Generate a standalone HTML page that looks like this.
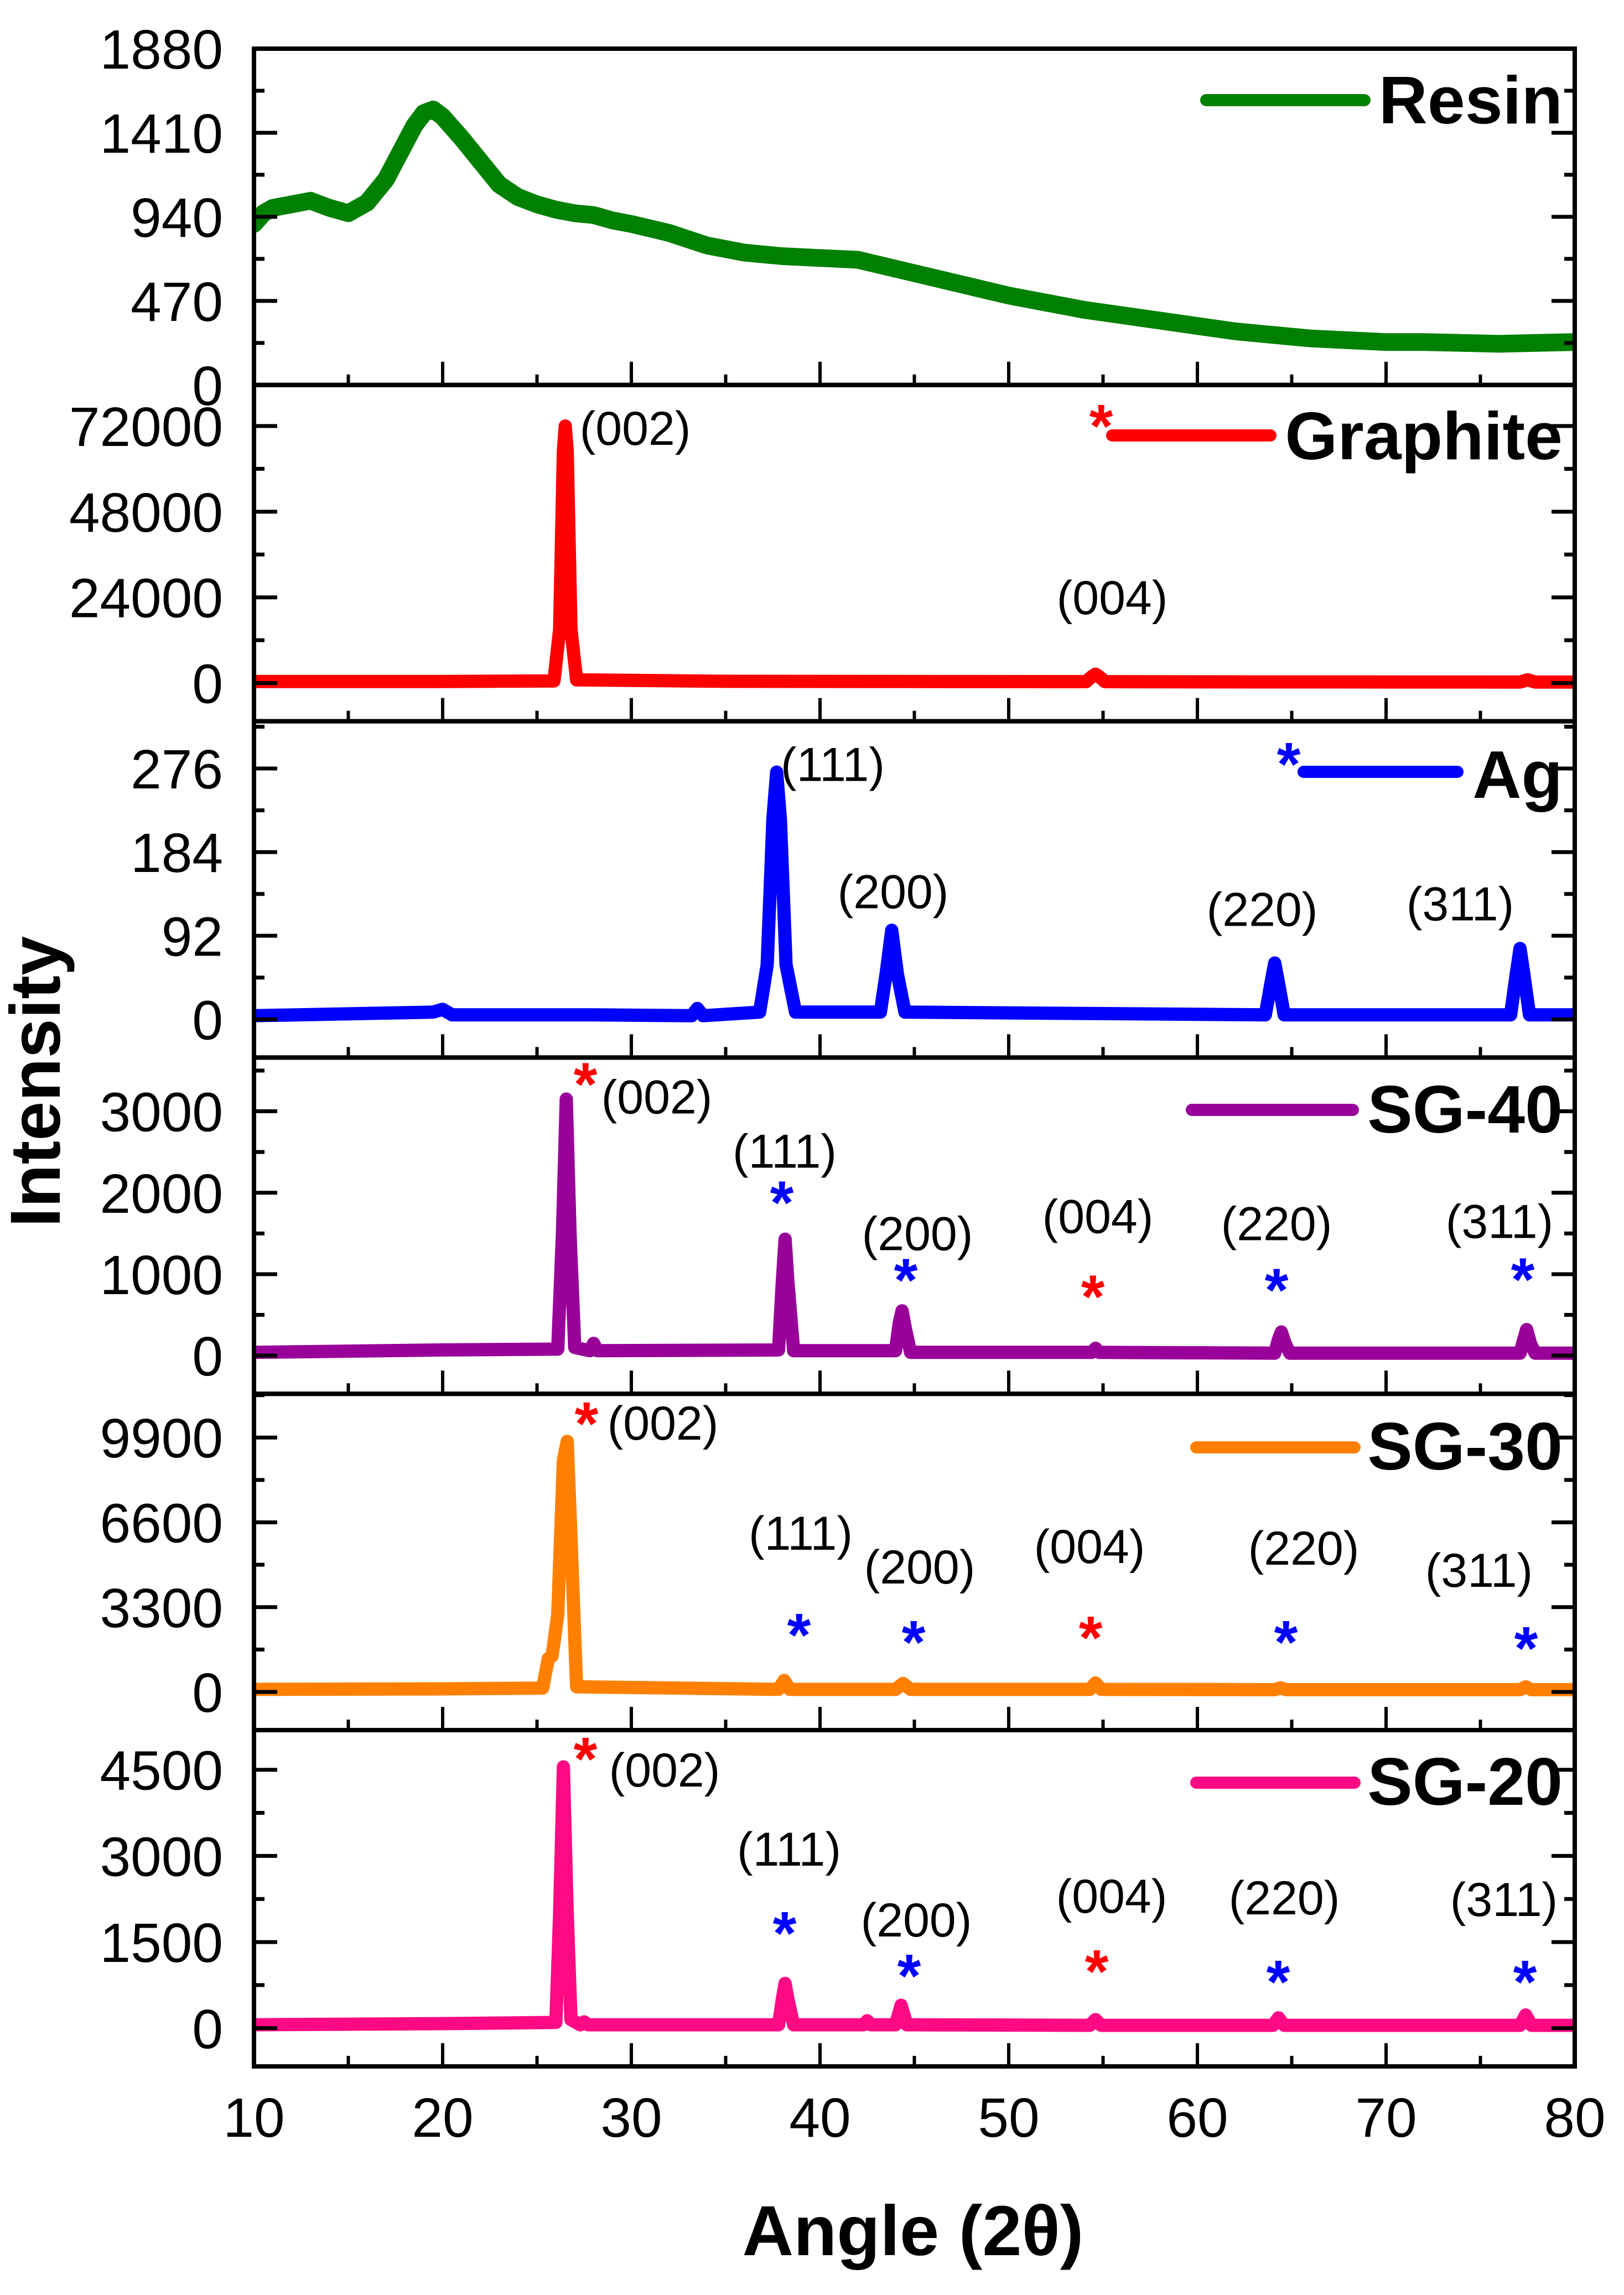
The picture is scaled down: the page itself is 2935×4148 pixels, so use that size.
<!DOCTYPE html>
<html><head><meta charset="utf-8"><title>XRD patterns</title>
<style>
html,body{margin:0;padding:0;background:#fff;}
svg{display:block;font-family:"Liberation Sans",Arial,sans-serif;}
</style></head>
<body>
<svg id="chart" width="2935" height="4148" viewBox="0 0 2935 4148" xmlns="http://www.w3.org/2000/svg">
<rect width="2935" height="4148" fill="#fff"/>
<g id="series"></g>
<g id="axes"></g>
<g id="annot"></g>
<text x="0" y="0" transform="translate(108,1955) rotate(-90)" text-anchor="middle" font-weight="bold" font-size="128">Intensity</text>
<text x="1650" y="4076" text-anchor="middle" font-weight="bold" font-size="128">Angle (2θ)</text>
</svg>
<script>
// ---- data ----
const xTicks = [10,20,30,40,50,60,70,80];
const panelNames = ["Resin","Graphite","Ag","SG-40","SG-30","SG-20"];
const panelColors = ["#008000","#ff0000","#0000ff","#990099","#ff8000","#ff0a84"];
const yRanges = [[0,1880],[-10690,83490],[-42,328],[-469,3660],[-1485,11602],[-665,5191]];
const yTickLabels = [[0,470,940,1410,1880],[0,24000,48000,72000],[0,92,184,276],[0,1000,2000,3000],[0,3300,6600,9900],[0,1500,3000,4500]];

const resinAngles = [10,10.5,11,12,13,14,15,16,17,18,18.5,19,19.5,20,21,22,23,24,25,26,27,28,29,30,32,34,36,38,40,42,44,46,48,50,52,54,56,58,60,62,64,66,68,70,72,74,76,78,80];
const resinValues = [900,960,990,1010,1030,990,960,1020,1150,1350,1450,1520,1540,1500,1380,1250,1120,1050,1010,980,960,950,920,900,850,780,740,720,710,700,650,600,550,500,460,420,390,360,330,300,280,260,250,240,240,235,230,235,240];

const graphiteAngles = [10,20,25.9,26.2,26.4,26.5,26.6,26.8,27.1,35,54.1,54.4,54.6,54.8,55.1,60,77.1,77.5,77.9,80];
const graphiteValues = [450,450,600,15000,65000,72000,65000,15000,900,500,400,1800,2500,1800,400,350,300,900,300,300];

const agAngles = [10,19.5,20,20.5,28,33.2,33.5,33.8,36.8,37.2,37.5,37.7,37.9,38.2,38.7,43.2,43.5,43.8,44.1,44.5,63.6,63.9,64.1,64.3,64.6,76.6,76.9,77.1,77.3,77.6,80];
const agValues = [4,8,11,5,5,4,12,4,8,60,220,272,220,60,8,8,50,98,50,8,5,40,62,40,5,5,50,78,50,5,5];

const sg40Angles = [10,20,26.1,26.35,26.55,26.75,27.0,27.8,28.0,28.2,37.8,38.0,38.15,38.3,38.6,44.0,44.2,44.35,44.55,44.8,54.4,54.6,54.8,64.1,64.3,64.45,64.65,64.9,77.1,77.3,77.45,77.65,77.9,80];
const sg40Values = [40,70,80,1500,3150,1500,100,60,150,60,70,900,1430,900,60,60,400,550,300,40,40,90,40,30,200,290,150,30,30,200,320,150,30,30];

const sg30Angles = [10,20,25.3,25.6,25.8,26.1,26.4,26.6,26.8,27.1,37.8,38.1,38.4,44.0,44.4,44.8,54.3,54.6,54.9,64.1,64.4,64.7,77.1,77.4,77.7,80];
const sg30Values = [100,120,150,1300,1400,3000,9000,9750,6000,200,100,450,100,100,330,100,100,350,100,90,160,90,90,200,90,90];

const sg20Angles = [10,20,26.0,26.2,26.4,26.6,26.8,27.3,27.5,27.7,37.8,38.0,38.15,38.3,38.6,42.3,42.5,42.7,44.0,44.3,44.6,54.3,54.6,54.9,64.0,64.3,64.6,77.1,77.4,77.7,80];
const sg20Values = [60,80,100,2000,4550,2000,150,60,110,60,60,500,780,500,60,60,130,60,60,400,60,50,150,50,50,180,50,50,230,50,50];

const seriesAngles = [resinAngles,graphiteAngles,agAngles,sg40Angles,sg30Angles,sg20Angles];
const seriesValues = [resinValues,graphiteValues,agValues,sg40Values,sg30Values,sg20Values];

const hklLabels = [
 [1,"(002)",1148,108],[1,"(004)",2010,414],
 [2,"(111)",1505,108],[2,"(200)",1614,338],[2,"(220)",2281,370],[2,"(311)",2639,360],
 [3,"(002)",1187,101],[3,"(111)",1418,199],[3,"(200)",1658,348],[3,"(004)",1984,317],[3,"(220)",2307,330],[3,"(311)",2710,326],
 [4,"(002)",1198,83],[4,"(111)",1447,282],[4,"(200)",1662,343],[4,"(004)",1969,306],[4,"(220)",2356,309],[4,"(311)",2673,349],
 [5,"(002)",1201,102],[5,"(111)",1426,245],[5,"(200)",1656,373],[5,"(004)",2009,330],[5,"(220)",2321,333],[5,"(311)",2718,336]
];
const starMarks = [
 [3,"r",1058,38],[3,"b",1413,252],[3,"b",1637,392],[3,"r",1975,422],[3,"b",2307,410],[3,"b",2752,391],
 [4,"r",1060,44],[4,"b",1444,426],[4,"b",1651,439],[4,"r",1971,431],[4,"b",2324,439],[4,"b",2758,450],
 [5,"r",1058,42],[5,"b",1418,357],[5,"b",1643,434],[5,"r",1982,426],[5,"b",2310,445],[5,"b",2756,445]
];

// ---- layout ----
const L=459, R=2846, T0=88, PH=607.8;
const NS="http://www.w3.org/2000/svg";
function mk(tag,attrs,parent){const e=document.createElementNS(NS,tag);for(const k in attrs)e.setAttribute(k,attrs[k]);parent.appendChild(e);return e;}
function xs(a){return L+(a-10)/(80-10)*(R-L);}
function ys(p,v){const top=T0+p*PH,bot=top+PH;const [a,b]=yRanges[p];return bot-(v-a)/(b-a)*PH;}

const gS=document.getElementById('series'), gA=document.getElementById('axes'), gN=document.getElementById('annot');

for(let p=0;p<6;p++){
  const top=T0+p*PH, bot=top+PH;
  const A=seriesAngles[p], V=seriesValues[p];
  let d="";
  for(let i=0;i<A.length;i++){d+=(i?"L":"M")+xs(A[i]).toFixed(1)+" "+ys(p,V[i]).toFixed(1);}
  const clip=mk('clipPath',{id:'clip'+p},gS);
  mk('rect',{x:L,y:top,width:R-L,height:PH},clip);
  const path=mk('path',{d:d,fill:'none',stroke:panelColors[p],'stroke-width':(p===0?32:24),'stroke-linejoin':'round','stroke-linecap':'round','clip-path':'url(#clip'+p+')'},gS);
  
  

  for(let a=10;a<=80;a+=5){
    const major=(a%10===0);
    const t=mk('line',{x1:xs(a),x2:xs(a),y1:bot,y2:bot-(major?42:19),stroke:'#000','stroke-width':6},gA);
    
    
  }
  const labs=yTickLabels[p];
  const step=labs[1]-labs[0];
  const [ya,yb]=yRanges[p];
  for(let v=Math.ceil(ya/(step/2))*(step/2); v<=yb+1e-9; v+=step/2){
    const y=ys(p,v);
    if(y<top-1||y>bot+1) continue;
    const major=Math.abs(Math.round(v/step)*step-v)<1e-6;
    const len=major?42:19;
    const t1=mk('line',{x1:L,x2:L+len,y1:y,y2:y,stroke:'#000','stroke-width':7},gA);
    
    
    const t2=mk('line',{x1:R,x2:R-len,y1:y,y2:y,stroke:'#000','stroke-width':7},gA);
    
    
  }
  for(const v of labs){
    const tx=mk('text',{x:403,y:ys(p,v)+36,'text-anchor':'end','font-size':100},gA);
    tx.textContent=String(v);
    
    
  }
  const fr=mk('rect',{x:L,y:top,width:R-L,height:PH,fill:'none',stroke:'#000','stroke-width':8},gA);
  
  
}
for(const a of xTicks){
  const t=mk('text',{x:xs(a),y:3862,'text-anchor':'middle','font-size':100},gA);
  t.textContent=String(a);
  
  
}
const legLine=[[2180,2466,181],[2010,2296,787],[2356,2634,1395],[2154,2445,2006],[2162,2448,2616],[2162,2448,3222]];
const legBase=[223,830,1442,2047,2656,3262];
for(let p=0;p<6;p++){
  const g=mk('g',{},gN);
  
  
  mk('line',{x1:legLine[p][0],x2:legLine[p][1],y1:legLine[p][2],y2:legLine[p][2],stroke:panelColors[p],'stroke-width':22,'stroke-linecap':'round'},g);
  const t=mk('text',{x:2824,y:legBase[p],'text-anchor':'end','font-size':122,'font-weight':'bold'},g);
  t.textContent=panelNames[p];
}
const s1=mk('text',{x:1990,y:808,'text-anchor':'middle','font-size':110,'font-weight':'bold',fill:'#ff0000'},gN);
s1.textContent='*';


const s2=mk('text',{x:2329,y:1419,'text-anchor':'middle','font-size':110,'font-weight':'bold',fill:'#0000ff'},gN);
s2.textContent='*';


for(const h of hklLabels){
  const t=mk('text',{x:h[2],y:T0+h[0]*PH+h[3],'text-anchor':'middle','font-size':86},gN);
  t.textContent=h[1];
  
  
}
for(const s of starMarks){
  const t=mk('text',{x:s[2],y:T0+s[0]*PH+s[3]+48,'text-anchor':'middle','font-size':110,'font-weight':'bold',fill:(s[1]==='r'?'#ff0000':'#0000ff')},gN);
  t.textContent='*';
  
  
}
</script>
</body></html>
